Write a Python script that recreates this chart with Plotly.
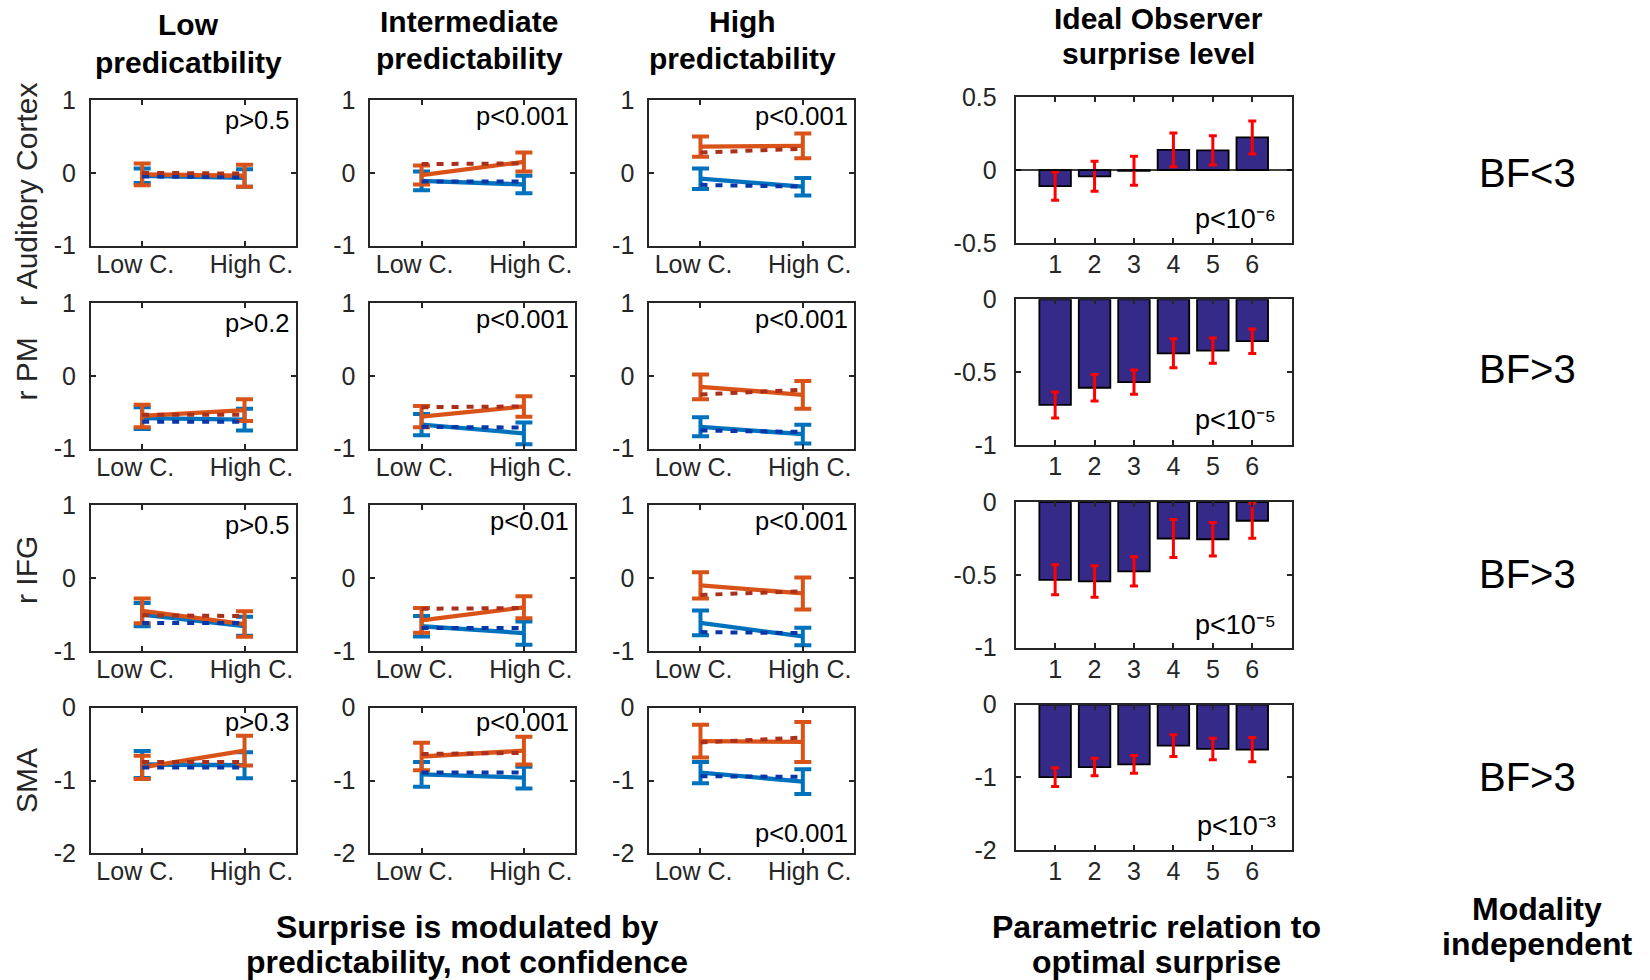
import plotly.graph_objects as go

W, H = 1650, 980

# ---------------- data ----------------
row_labels = ["r Auditory Cortex", "r PM", "r IFG", "SMA"]
col_titles = [["Low", "predicatbility"], ["Intermediate", "predictability"], ["High", "predictability"]]
cond_ticks = ["Low C.\u00a0\u00a0", "\u00a0\u00a0High C."]
cond_x = [1, 2]

small_yrange = [[-1, 1], [-1, 1], [-1, 1], [-2, 0]]
small_yticks = [[-1, 0, 1], [-1, 0, 1], [-1, 0, 1], [-2, -1, 0]]

orange_mean = [
    [[-0.02, -0.04], [-0.03, 0.15], [0.36, 0.37]],
    [[-0.55, -0.47], [-0.56, -0.42], [-0.15, -0.26]],
    [[-0.45, -0.63], [-0.58, -0.40], [-0.10, -0.21]],
    [[-0.82, -0.59], [-0.67, -0.59], [-0.46, -0.47]],
]
orange_err = [
    [[0.15, 0.15], [0.13, 0.13], [0.14, 0.17]],
    [[0.155, 0.15], [0.145, 0.14], [0.17, 0.19]],
    [[0.17, 0.175], [0.17, 0.15], [0.18, 0.22]],
    [[0.16, 0.205], [0.19, 0.19], [0.225, 0.275]],
]
blue_mean = [
    [[-0.04, -0.07], [-0.11, -0.16], [-0.08, -0.19]],
    [[-0.58, -0.60], [-0.67, -0.79], [-0.70, -0.80]],
    [[-0.50, -0.66], [-0.66, -0.755], [-0.615, -0.80]],
    [[-0.78, -0.79], [-0.915, -0.96], [-0.89, -1.015]],
]
blue_err = [
    [[0.10, 0.12], [0.13, 0.12], [0.14, 0.12]],
    [[0.15, 0.15], [0.145, 0.15], [0.13, 0.13]],
    [[0.16, 0.13], [0.14, 0.16], [0.17, 0.12]],
    [[0.185, 0.18], [0.17, 0.15], [0.146, 0.17]],
]
orange_model = [
    [[0.0, -0.01], [0.12, 0.13], [0.28, 0.33]],
    [[-0.535, -0.535], [-0.43, -0.42], [-0.256, -0.19]],
    [[-0.51, -0.52], [-0.42, -0.41], [-0.23, -0.18]],
    [[-0.746, -0.746], [-0.636, -0.62], [-0.476, -0.41]],
]
blue_model = [
    [[-0.05, -0.06], [-0.12, -0.12], [-0.165, -0.19]],
    [[-0.63, -0.63], [-0.70, -0.71], [-0.75, -0.77]],
    [[-0.615, -0.615], [-0.685, -0.685], [-0.74, -0.755]],
    [[-0.82, -0.82], [-0.89, -0.89], [-0.94, -0.95]],
]
small_pvals = [
    ["p&gt;0.5", "p&lt;0.001", "p&lt;0.001"],
    ["p&gt;0.2", "p&lt;0.001", "p&lt;0.001"],
    ["p&gt;0.5", "p&lt;0.01", "p&lt;0.001"],
    ["p&gt;0.3", "p&lt;0.001", "p&lt;0.001"],
]

bar_title = ["Ideal Observer", "surprise level"]
bar_x = [1, 2, 3, 4, 5, 6]
bar_vals = [
    [-0.11, -0.043, -0.005, 0.139, 0.135, 0.224],
    [-0.726, -0.608, -0.569, -0.371, -0.353, -0.288],
    [-0.535, -0.546, -0.477, -0.251, -0.256, -0.129],
    [-0.998, -0.86, -0.823, -0.566, -0.611, -0.62],
]
bar_err = [
    [0.097, 0.103, 0.10, 0.116, 0.10, 0.113],
    [0.089, 0.091, 0.083, 0.10, 0.087, 0.084],
    [0.103, 0.108, 0.10, 0.13, 0.115, 0.12],
    [0.128, 0.12, 0.122, 0.15, 0.147, 0.168],
]
bar_yrange = [[-0.5, 0.5], [-1, 0], [-1, 0], [-2, 0]]
bar_yticks = [[-0.5, 0, 0.5], [-1, -0.5, 0], [-1, -0.5, 0], [-2, -1, 0]]
bar_ytext = [["-0.5", "0", "0.5"], ["-1", "-0.5", "0"], ["-1", "-0.5", "0"], ["-2", "-1", "0"]]
bar_pvals = ["p&lt;10\u207b\u2076", "p&lt;10\u207b\u2075", "p&lt;10\u207b\u2075", "p&lt;10\u207b\u00b3"]

bf_texts = ["BF&lt;3", "BF&gt;3", "BF&gt;3", "BF&gt;3"]
bottom_left = ["Surprise is modulated by", "predictability, not confidence"]
bottom_mid = ["Parametric relation to", "optimal surprise"]
bottom_right = ["Modality", "independent"]

# ---------------- style ----------------
FONT = "Liberation Sans, Arial, Helvetica, sans-serif"
AX = "#262626"
ORANGE = "#D95319"
BLUE = "#0072BD"
DORANGE = "#A8301C"
DBLUE = "#0A36A8"
BARC = "#352A87"

small_left = [91.0, 370.4, 649.3]
small_w = 204.7
small_top = [100.0, 303.0, 505.3, 707.7]
small_h = 145.7
bar_left = 1015.7
bar_w = 276.0
bar_top = [97.3, 299.3, 502.0, 704.5]
bar_h = 145.5


def fx(px):
    return px / W


def fy(py):
    return 1 - py / H


fig = go.Figure()
layout = {}
annotations = []
shapes = []


def axis_common(size=25):
    return dict(showline=True, linecolor=AX, linewidth=2, mirror="ticks",
                ticks="inside", ticklen=5, tickwidth=1.5, tickcolor=AX,
                showgrid=False, zeroline=False, fixedrange=True, automargin=False,
                tickfont=dict(family=FONT, size=size, color=AX))


for r in range(4):
    for c in range(3):
        idx = r * 4 + c + 1
        xs = "x" if idx == 1 else f"x{idx}"
        ys = "y" if idx == 1 else f"y{idx}"
        xk = "xaxis" if idx == 1 else f"xaxis{idx}"
        yk = "yaxis" if idx == 1 else f"yaxis{idx}"
        x0 = small_left[c]
        y0 = small_top[r]
        xa = axis_common()
        xa.update(domain=[fx(x0), fx(x0 + small_w)], anchor=ys, range=[0.5, 2.5],
                  tickvals=cond_x, ticktext=cond_ticks, ticklabelstandoff=-5)
        ya = axis_common()
        ya.update(domain=[fy(y0 + small_h), fy(y0)], anchor=xs, range=small_yrange[r],
                  tickvals=small_yticks[r], ticktext=[str(v) for v in small_yticks[r]],
                  ticklabelstandoff=8)
        layout[xk] = xa
        layout[yk] = ya

        fig.add_trace(go.Scatter(x=cond_x, y=blue_mean[r][c], mode="lines", xaxis=xs, yaxis=ys,
                                 line=dict(color=BLUE, width=4.3),
                                 error_y=dict(type="data", array=blue_err[r][c], color=BLUE,
                                              thickness=4, width=8.5),
                                 showlegend=False, hoverinfo="skip"))
        fig.add_trace(go.Scatter(x=cond_x, y=orange_mean[r][c], mode="lines", xaxis=xs, yaxis=ys,
                                 line=dict(color=ORANGE, width=4.3),
                                 error_y=dict(type="data", array=orange_err[r][c], color=ORANGE,
                                              thickness=4, width=8.5),
                                 showlegend=False, hoverinfo="skip"))
        fig.add_trace(go.Scatter(x=cond_x, y=blue_model[r][c], mode="lines", xaxis=xs, yaxis=ys,
                                 line=dict(color=DBLUE, width=4, dash="7px,8px"),
                                 showlegend=False, hoverinfo="skip"))
        fig.add_trace(go.Scatter(x=cond_x, y=orange_model[r][c], mode="lines", xaxis=xs, yaxis=ys,
                                 line=dict(color=DORANGE, width=4, dash="7px,8px"),
                                 showlegend=False, hoverinfo="skip"))

        # p-value text
        if r == 3 and c == 2:
            ty = y0 + small_h - 20
        elif r == 3:
            ty = y0 + 14
        else:
            ty = y0 + (20 if c == 0 else 16)
        annotations.append(dict(text=small_pvals[r][c], x=fx(x0 + small_w - 4), y=fy(ty),
                                xref="paper", yref="paper", xanchor="right", yanchor="middle",
                                showarrow=False, font=dict(family=FONT, size=25.5, color="black")))

    # bar panel
    idx = r * 4 + 4
    xs, ys = f"x{idx}", f"y{idx}"
    y0 = bar_top[r]
    xa = axis_common(25)
    xa.update(domain=[fx(bar_left), fx(bar_left + bar_w)], anchor=ys, range=[0, 7],
              tickvals=bar_x, ticktext=[str(v) for v in bar_x], ticklabelstandoff=-2)
    ya = axis_common(25)
    ya.update(domain=[fy(y0 + bar_h), fy(y0)], anchor=xs, range=bar_yrange[r],
              tickvals=bar_yticks[r], ticktext=bar_ytext[r], ticklabelstandoff=12)
    layout[f"xaxis{idx}"] = xa
    layout[f"yaxis{idx}"] = ya
    fig.add_trace(go.Bar(x=bar_x, y=bar_vals[r], width=0.8, xaxis=xs, yaxis=ys,
                         marker=dict(color=BARC, line=dict(color="black", width=1.8)),
                         error_y=dict(type="data", array=bar_err[r], color="#FF0000",
                                      thickness=3, width=4),
                         showlegend=False, hoverinfo="skip"))
    if bar_yrange[r][0] < 0 < bar_yrange[r][1]:
        shapes.append(dict(type="line", xref=f"x{idx} domain", yref=ys, x0=0, x1=1, y0=0, y1=0,
                           line=dict(color="black", width=1.5)))
    pyc = [219, 420, 625, 826][r]
    annotations.append(dict(text=bar_pvals[r], x=fx(bar_left + bar_w - 14), y=fy(pyc),
                            xref="paper", yref="paper", xanchor="right", yanchor="middle",
                            showarrow=False, font=dict(family=FONT, size=27, color="black")))

    # row label
    annotations.append(dict(text=row_labels[r], x=fx(26), y=fy([195, 369.5, 570, 781][r]),
                            xref="paper", yref="paper", xanchor="center", yanchor="middle",
                            textangle=-90, showarrow=False,
                            font=dict(family=FONT, size=30, color=AX)))
    # BF text
    annotations.append(dict(text=bf_texts[r], x=fx(1527), y=fy([173, 369, 573.5, 776.6][r]),
                            xref="paper", yref="paper", xanchor="center", yanchor="middle",
                            showarrow=False, font=dict(family=FONT, size=40, color="black")))

BOLD30 = dict(family=FONT, size=30, color="black", weight="bold")
BOLD32 = dict(family=FONT, size=32, color="black", weight="bold")

# column titles
title_cx = [188, 469, 742]
title_y = [[25, 63], [21, 58], [21, 58]]
for c in range(3):
    for k in range(2):
        annotations.append(dict(text=col_titles[c][k], x=fx(title_cx[c]), y=fy(title_y[c][k]),
                                xref="paper", yref="paper", xanchor="center", yanchor="middle",
                                showarrow=False, font=BOLD30))
for k in range(2):
    annotations.append(dict(text=bar_title[k], x=fx(1158), y=fy([18, 54][k]),
                            xref="paper", yref="paper", xanchor="center", yanchor="middle",
                            showarrow=False, font=BOLD30))

# bottom captions
for texts, cx, ys_ in [(bottom_left, 467, [927, 962]), (bottom_mid, 1156, [927, 962]),
                       (bottom_right, 1537, [909, 944])]:
    for k in range(2):
        annotations.append(dict(text=texts[k], x=fx(cx), y=fy(ys_[k]),
                                xref="paper", yref="paper", xanchor="center", yanchor="middle",
                                showarrow=False, font=BOLD32))

fig.update_layout(template="none", width=W, height=H, margin=dict(l=0, r=0, t=0, b=0, pad=0),
                  paper_bgcolor="white", plot_bgcolor="white",
                  font=dict(family=FONT), annotations=annotations, shapes=shapes,
                  showlegend=False, **layout)

fig.write_html("out.html", config={"displayModeBar": False},
               post_script="document.body.style.margin='0px';")
